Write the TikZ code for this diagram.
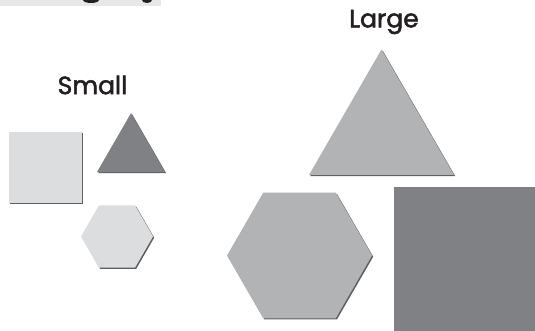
\documentclass[tikz,border=0pt]{standalone}
\usepackage{fontspec}
\setmainfont{Poppins}
\newfontfamily\headfont[FakeBold=2]{Poppins}
\usetikzlibrary{shapes.geometric}
\definecolor{shapelight}{HTML}{DCDDDE}
\definecolor{shapemid}{HTML}{B2B3B5}
\definecolor{shapedark}{HTML}{808184}
\definecolor{shadowgray}{HTML}{5E5F62}
\definecolor{stripgray}{HTML}{E6E7E8}
\definecolor{inkblack}{HTML}{231F20}

\begin{document}
\begin{tikzpicture}[
  x=1pt, y=-1pt,
  tile/.style={inner sep=0pt, outer sep=0pt,
               preaction={fill=shadowgray, transform canvas={shift={(1.2pt,-1.2pt)}}}},
  sqtile/.style={tile, rectangle, minimum width=#1, minimum height=#1},
  tritile/.style={tile, regular polygon, regular polygon sides=3, minimum size=#1},
  hextile/.style={tile, regular polygon, regular polygon sides=6, minimum size=#1},
  heading/.style={font=\headfont\fontsize{25}{29}\selectfont, text=inkblack, inner sep=0pt}
]
  \useasboundingbox (0,0) rectangle (535,331);
  \clip (0,0) rectangle (535,331);

  % cut-off title strip
  \fill[stripgray] (0,0) rectangle (161,6);
  \fill[inkblack] (83,0) arc[start angle=180, end angle=360, x radius=8, y radius=-3] -- cycle;
  \fill[inkblack] (142,0) arc[start angle=180, end angle=360, x radius=5, y radius=-3] -- cycle;

  % small group
  \node[heading] (smalltitle) at (92.5,85) {Small};
  \node[sqtile=71pt, minimum width=73pt, fill=shapelight] (smallsq) at (45.5,167.5) {};
  \node[tritile=78.5pt, fill=shapedark] (smalltri) at (131,152.4) {};
  \node[hextile=72pt, fill=shapelight] (smallhex) at (117,236.5) {};

  % large group
  \node[heading] (largetitle) at (384,22) {Large};
  \node[tritile=167.4pt, fill=shapemid] (largetri) at (381.5,133.1) {};
  \node[hextile=145pt, fill=shapemid] (largehex) at (299.5,255.5) {};
  \node[sqtile=145pt, fill=shapedark] (largesq) at (466.5,259.5) {};
\end{tikzpicture}
\end{document}
